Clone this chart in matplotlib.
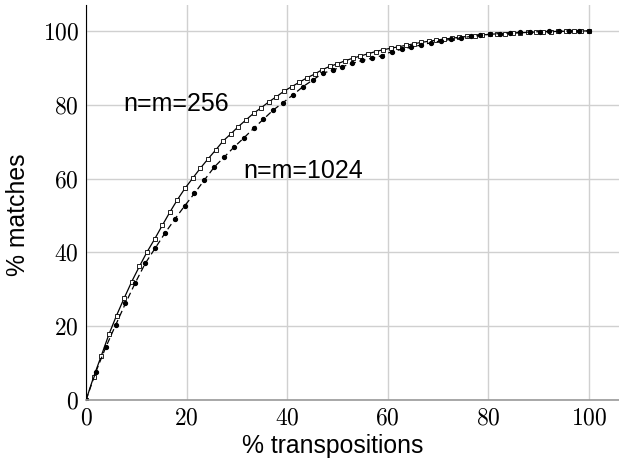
import numpy as np
import matplotlib.pyplot as plt

plt.rcParams['mathtext.fontset'] = 'cm'
plt.rcParams['font.family'] = ['Liberation Sans', 'DejaVu Sans']

# n=m=256 : 67 samples, n=m=1024 : 52 samples, evenly spread over 0..100 %
x256 = np.linspace(0, 100, 67)
y256 = [0, 6.3, 12.0, 17.8, 22.9, 27.6, 32.1, 36.2, 40.1, 43.6,
        47.3, 50.9, 54.3, 57.4, 60.1, 62.8, 65.3, 67.7, 70.2, 72.1,
        74.1, 75.9, 77.7, 79.2, 80.8, 82.2, 83.7, 84.9, 86.1, 87.3,
        88.3, 89.5, 90.4, 91.1, 91.9, 92.6, 93.2, 93.8, 94.4, 94.9,
        95.3, 95.7, 96.1, 96.5, 96.9, 97.2, 97.5, 97.8, 98.0, 98.3,
        98.5, 98.7, 98.9, 99.1, 99.2, 99.3, 99.4, 99.5, 99.6, 99.7,
        99.8, 99.8, 99.9, 99.9, 100, 100, 100]

x1024 = np.linspace(0, 100, 52)
y1024 = [0, 7.7, 14.3, 20.3, 26.2, 31.8, 37.0, 41.1, 45.2, 49.0,
         52.6, 56.0, 59.6, 63.1, 65.8, 68.5, 71.0, 73.6, 76.1, 78.6,
         80.6, 82.7, 84.9, 86.7, 88.5, 89.4, 90.3, 91.2, 92.0, 92.6,
         93.3, 94.4, 95.0, 95.6, 96.2, 96.8, 97.3, 97.7, 98.1, 98.5,
         98.8, 99.1, 99.3, 99.5, 99.6, 99.7, 99.8, 99.9, 99.9, 100,
         100, 100]

ticks = [0, 20, 40, 60, 80, 100]

fig = plt.figure(figsize=(6.19, 4.62), dpi=100)
ax = fig.add_axes([0.139, 0.134, 0.861, 0.855])

ax.plot(x256, y256, color='black', lw=0.9, marker='s', ms=2.2,
        mfc='white', mec='black', mew=0.6)
ax.plot(x1024, y1024, color='black', lw=0.9, ls=(0, (5, 3)), marker='o',
        ms=2.8, mfc='black', mec='black')

ax.text(7.4, 80.2, 'n=m=256', fontsize=18, va='center', ha='left')
ax.text(31.3, 62, 'n=m=1024', fontsize=18, va='center', ha='left')

ax.set_xlim(0, 106)
ax.set_ylim(0, 107)
ax.set_xticks(ticks)
ax.set_yticks(ticks)
ax.set_xticklabels(['$%d$' % t for t in ticks], fontsize=17)
ax.set_yticklabels(['$%d$' % t for t in ticks], fontsize=17)
ax.tick_params(length=0, pad=5)
ax.grid(True, color='#d0d0d0', lw=1)
ax.set_axisbelow(True)

ax.spines['top'].set_visible(False)
ax.spines['right'].set_visible(False)
ax.spines['left'].set_color('black')
ax.spines['bottom'].set_color('#999999')
ax.spines['bottom'].set_linewidth(1.2)

# labels centred on the 0..100 data span rather than the whole axes
ax.set_xlabel('% transpositions', fontsize=17.8, labelpad=3.6, x=0.462)
ax.set_ylabel('% matches', fontsize=17.8, labelpad=9, y=0.468)

fig.savefig('out.png', dpi=100)
